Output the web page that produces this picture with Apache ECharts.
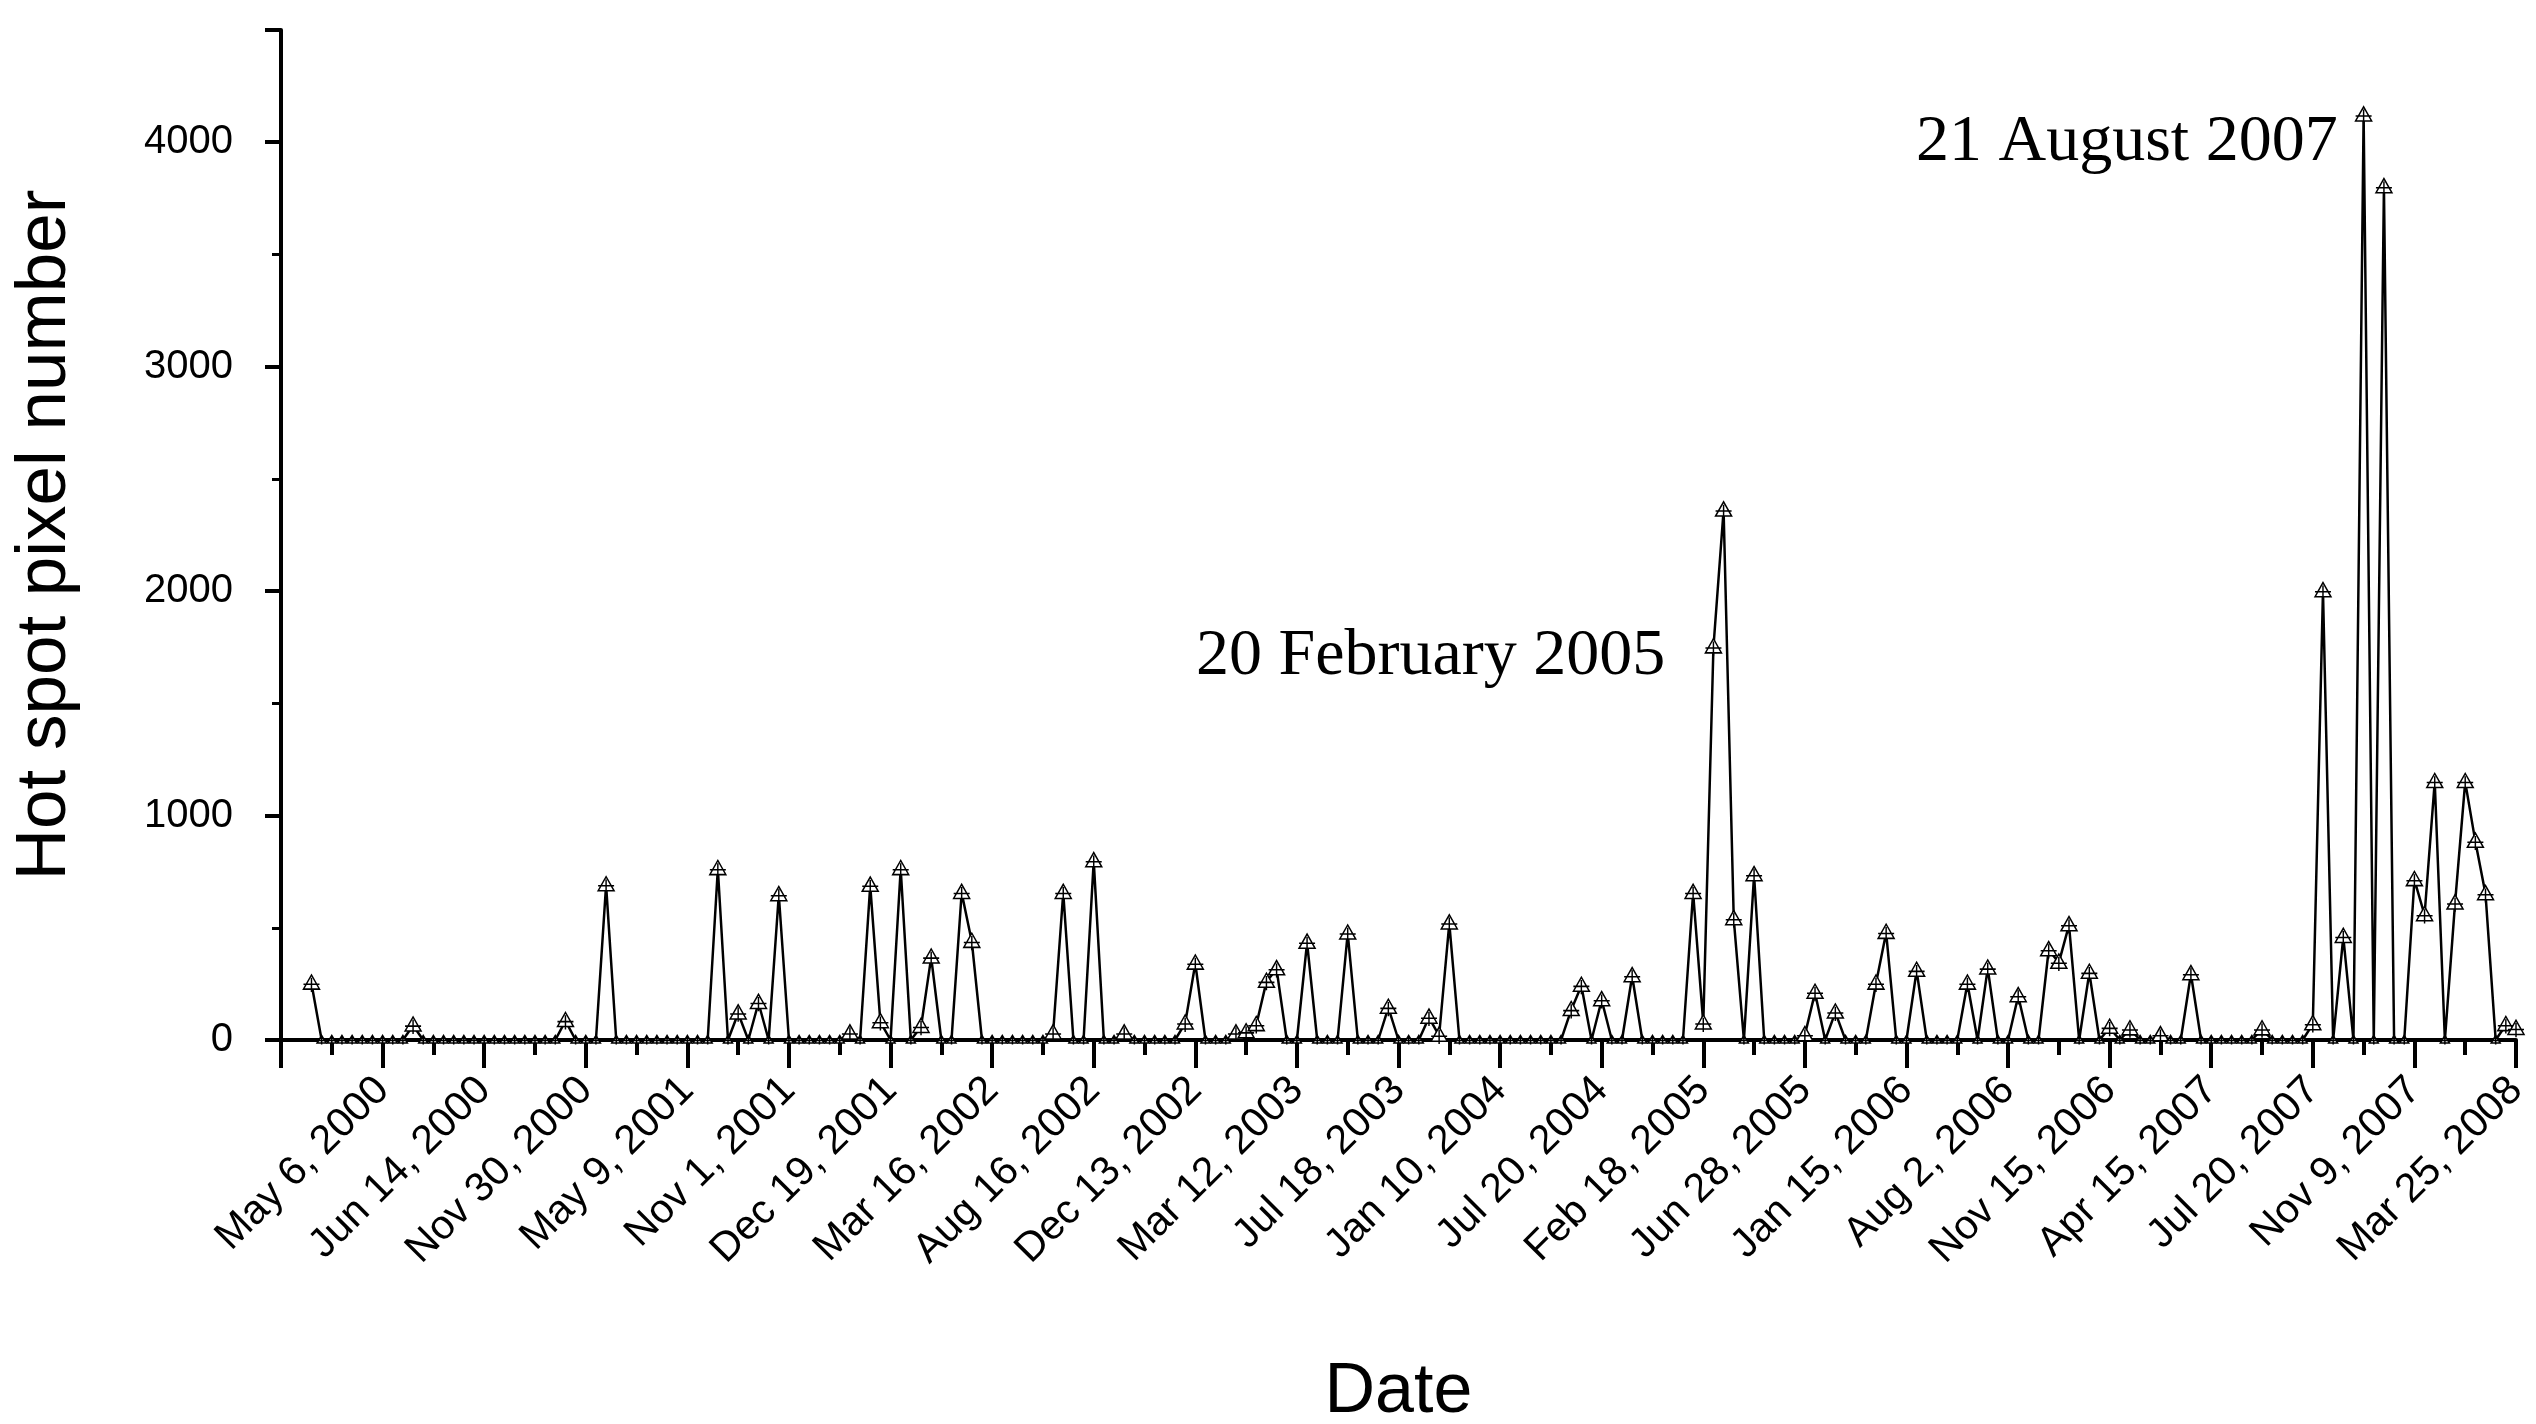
<!DOCTYPE html>
<html><head><meta charset="utf-8">
<script src="https://cdn.jsdelivr.net/npm/echarts@6/dist/echarts.min.js"></script>
<style>html,body{margin:0;padding:0;background:#fff}#c{width:2536px;height:1424px}</style>
</head><body><div id="c"></div>
<script>
const tickLabels = ["May 6, 2000","Jun 14, 2000","Nov 30, 2000","May 9, 2001","Nov 1, 2001","Dec 19, 2001","Mar 16, 2002","Aug 16, 2002","Dec 13, 2002","Mar 12, 2003","Jul 18, 2003","Jan 10, 2004","Jul 20, 2004","Feb 18, 2005","Jun 28, 2005","Jan 15, 2006","Aug 2, 2006","Nov 15, 2006","Apr 15, 2007","Jul 20, 2007","Nov 9, 2007","Mar 25, 2008"];
const hotSpotValues = [
null,null,null,252,0,0,0,0,0,0,
0,0,0,65,0,0,0,0,0,0,
0,0,0,0,0,0,0,0,85,0,
0,0,690,0,0,0,0,0,0,0,
0,0,0,762,0,119,0,166,0,646,
0,0,0,0,0,0,30,0,688,80,
0,762,0,59,368,0,0,656,438,0,
0,0,0,0,0,0,30,656,0,0,
797,0,0,30,0,0,0,0,0,74,
341,0,0,0,30,35,67,260,316,0,
0,434,0,0,0,475,0,0,0,144,
0,0,0,100,20,520,0,0,0,0,
0,0,0,0,0,0,0,134,242,0,
178,0,0,285,0,0,0,0,0,656,
74,1750,2360,539,0,735,0,0,0,0,
22,211,0,123,0,0,0,252,478,0,
0,309,0,0,0,0,252,0,319,0,
0,196,0,0,401,345,512,0,300,0,
55,0,48,0,0,22,0,0,294,0,
0,0,0,0,0,48,0,0,0,0,
71,2000,0,460,0,4120,0,3800,0,0,
713,557,1150,0,609,1150,884,650,0,67,
50];
const annotations = [
  {text:"20 February 2005", x:1196, y:624},
  {text:"21 August 2007", x:1916, y:110}
];
const seriesData = hotSpotValues.map((v,i)=>[i,v]);
const sym = 'path://M0,10 L5,0 L10,10 Z M0,6.5 L10,6.5 M5,2 L5,12';
const chart = echarts.init(document.getElementById('c'));
chart.setOption({
  animation:false,
  backgroundColor:'#fff',
  grid:{left:281,top:30,right:20,bottom:384,containLabel:false,outerBoundsMode:'none'},
  xAxis:{type:'value',min:0,max:220,interval:10,
    name:'Date',nameLocation:'middle',nameGap:318,
    nameTextStyle:{fontFamily:'Liberation Sans',fontSize:70,color:'#000'},
    axisLine:{lineStyle:{color:'#000',width:4}},
    axisTick:{inside:false,length:28,lineStyle:{color:'#000',width:4}},
    minorTick:{show:true,splitNumber:2,length:15,lineStyle:{color:'#000',width:4}},
    splitLine:{show:false},
    axisLabel:{rotate:45,margin:44,fontFamily:'Liberation Sans',fontSize:41,color:'#000',
      formatter:v=> v===0?'':(tickLabels[v/10-1]||'')}
  },
  yAxis:{type:'value',min:0,max:4500,interval:1000,
    name:'Hot spot pixel number',nameLocation:'middle',nameGap:200,
    nameTextStyle:{fontFamily:'Liberation Sans',fontSize:71,color:'#000'},
    axisLine:{show:true,lineStyle:{color:'#000',width:4}},
    axisTick:{show:true,inside:false,length:16,lineStyle:{color:'#000',width:4}},
    minorTick:{show:true,splitNumber:2,length:9,lineStyle:{color:'#000',width:3}},
    splitLine:{show:false},
    axisLabel:{margin:48,fontFamily:'Liberation Sans',fontSize:40,color:'#000',
      formatter:v=> v>4000?'':String(v)}
  },
  series:[{type:'line',data:seriesData,
    symbol:sym,
    symbolSize:(d)=> d[1]>15?[16,17]:[9,9],
    showAllSymbol:true,
    connectNulls:false,
    lineStyle:{color:'#000',width:2.5},
    itemStyle:{color:'#fff',borderColor:'#000',borderWidth:1.5}
  }],
  graphic: annotations.map(a=>({type:'text',left:a.x,top:a.y,
    style:{text:a.text,fontFamily:'Liberation Serif',fontSize:66,fill:'#000'}}))
});
</script></body></html>
